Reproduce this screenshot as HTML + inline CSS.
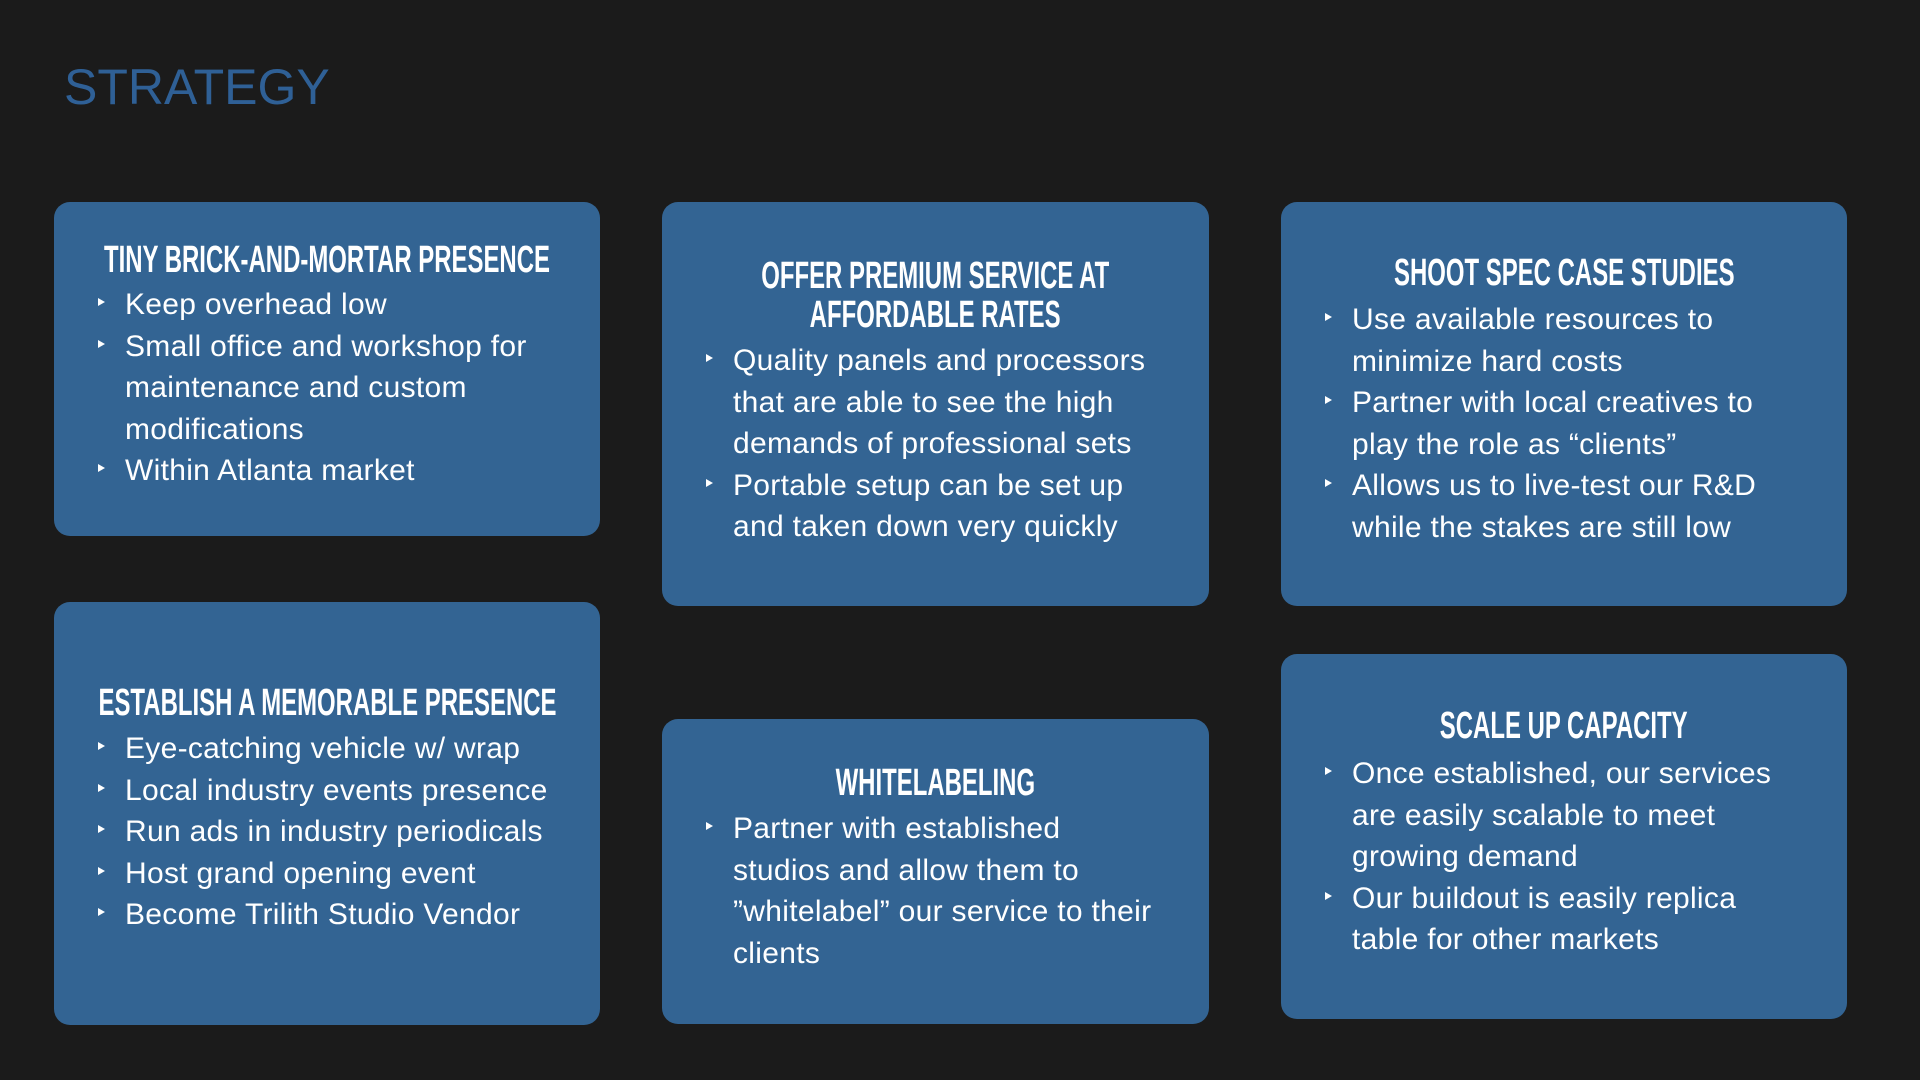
<!DOCTYPE html>
<html><head><meta charset="utf-8"><style>
body{margin:0;width:1920px;height:1080px;background:#1b1b1b;position:relative;overflow:hidden;font-family:"Liberation Sans",sans-serif;color:#fff}
.t{position:absolute;left:64px;top:58px;font-size:50px;color:#2f6096}
.b{position:absolute;background:#336493;border-radius:16px}
.h{position:absolute;left:0;right:0;display:flex;justify-content:center;line-height:39px;font-family:"Liberation Sans Narrow","Liberation Sans",sans-serif;font-weight:bold;font-size:38px;white-space:nowrap}
.h span{display:inline-block;transform:scaleX(0.63);transform-origin:center;flex:none}
.l{position:absolute;left:71px;line-height:41.5px;font-size:30px;letter-spacing:0.3px;white-space:nowrap}
.l div{position:relative}
.l div.s::before{content:"";position:absolute;left:-27px;top:14px;border-left:7px solid #fff;border-top:4px solid transparent;border-bottom:4px solid transparent}
</style></head><body>
<div class="t">STRATEGY</div>

<div class="b" style="left:54px;top:202px;width:546px;height:334px">
<div class="h" style="top:39px"><span>TINY BRICK-AND-MORTAR PRESENCE</span></div>
<div class="l" style="top:82px">
<div class="s">Keep overhead low</div>
<div class="s">Small office and workshop for</div>
<div>maintenance and custom</div>
<div>modifications</div>
<div class="s">Within Atlanta market</div>
</div></div>

<div class="b" style="left:662px;top:202px;width:547px;height:404px">
<div class="h" style="top:55px"><span>OFFER PREMIUM SERVICE AT</span></div>
<div class="h" style="top:94px"><span>AFFORDABLE RATES</span></div>
<div class="l" style="top:138px">
<div class="s">Quality panels and processors</div>
<div>that are able to see the high</div>
<div>demands of professional sets</div>
<div class="s">Portable setup can be set up</div>
<div>and taken down very quickly</div>
</div></div>

<div class="b" style="left:1281px;top:202px;width:566px;height:404px">
<div class="h" style="top:52px"><span>SHOOT SPEC CASE STUDIES</span></div>
<div class="l" style="top:97px">
<div class="s">Use available resources to</div>
<div>minimize hard costs</div>
<div class="s">Partner with local creatives to</div>
<div>play the role as “clients”</div>
<div class="s">Allows us to live-test our R&amp;D</div>
<div>while the stakes are still low</div>
</div></div>

<div class="b" style="left:54px;top:602px;width:546px;height:423px">
<div class="h" style="top:82px"><span>ESTABLISH A MEMORABLE PRESENCE</span></div>
<div class="l" style="top:126px">
<div class="s">Eye-catching vehicle w/ wrap</div>
<div class="s">Local industry events presence</div>
<div class="s">Run ads in industry periodicals</div>
<div class="s">Host grand opening event</div>
<div class="s">Become Trilith Studio Vendor</div>
</div></div>

<div class="b" style="left:662px;top:719px;width:547px;height:305px">
<div class="h" style="top:45px"><span>WHITELABELING</span></div>
<div class="l" style="top:89px">
<div class="s">Partner with established</div>
<div>studios and allow them to</div>
<div>”whitelabel” our service to their</div>
<div>clients</div>
</div></div>

<div class="b" style="left:1281px;top:654px;width:566px;height:365px">
<div class="h" style="top:53px"><span>SCALE UP CAPACITY</span></div>
<div class="l" style="top:99px">
<div class="s">Once established, our services</div>
<div>are easily scalable to meet</div>
<div>growing demand</div>
<div class="s">Our buildout is easily replica</div>
<div>table for other markets</div>
</div></div>
</body></html>
